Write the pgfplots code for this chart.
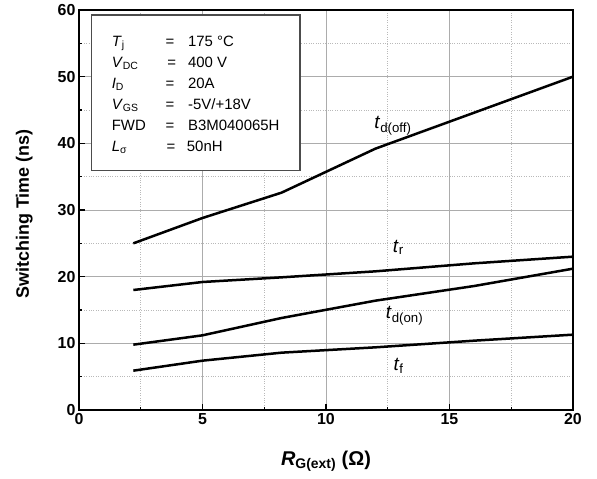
\documentclass[border=0pt]{standalone}
\usepackage{fontspec}
\setmainfont{Liberation Sans}
\usepackage{pgfplots}
\pgfplotsset{compat=1.18}
\begin{document}
\begin{tikzpicture}
\path[use as bounding box] (-79bp,-69bp) rectangle (518bp,410bp);
\begin{axis}[
  at={(0,0)}, anchor=origin,
  scale only axis, width=494bp, height=400bp,
  xmin=0, xmax=20, ymin=0, ymax=60,
  xtick={0,5,...,20}, ytick={0,10,...,60},
  minor xtick={2.5,7.5,12.5,17.5}, minor ytick={5,15,...,55},
  tick pos=left, tick align=inside,
  major tick length=6bp, minor tick length=3.5bp,
  every tick/.style={black, line width=1.2bp},
  grid=both,
  major grid style={gray!65, line width=0.8bp},
  minor grid style={gray!55, dotted, line width=0.6bp},
  axis line style={line width=1.6bp},
  /pgf/number format/assume math mode=true,
  ticklabel style={font=\fontsize{16}{16}\selectfont\bfseries},
  xlabel={\textit{R}\textsubscript{G(ext)} (Ω)},
  ylabel={Switching Time (ns)},
  xlabel style={font=\fontsize{20}{22}\selectfont\bfseries, at={(axis description cs:0.5,-0.128)}, anchor=center},
  ylabel style={font=\fontsize{18}{20}\selectfont\bfseries, at={(axis description cs:-0.111,0.49)}, anchor=center},
]
% t_d(off)
\addplot[black, line width=2.5bp] coordinates {
  (2.2,25.0) (5,28.8) (8.2,32.6) (12,39.2) (16,44.6) (20,50.0)};
% t_r
\addplot[black, line width=2.5bp] coordinates {
  (2.2,18.0) (5,19.2) (8.2,19.9) (12,20.8) (16,22.0) (20,23.0)};
% t_d(on)
\addplot[black, line width=2.5bp] coordinates {
  (2.2,9.8) (5,11.2) (8.2,13.8) (12,16.4) (16,18.6) (20,21.2)};
% t_f
\addplot[black, line width=2.5bp] coordinates {
  (2.2,5.9) (5,7.4) (8.2,8.6) (12,9.4) (16,10.4) (20,11.3)};

\node[font=\fontsize{19}{21}\selectfont] at (axis cs:12.71,42.6) {\textit{t}\textsubscript{d(off)}};
\node[font=\fontsize{19}{21}\selectfont] at (axis cs:12.93,24.4) {\textit{t}\textsubscript{r}};
\node[font=\fontsize{19}{21}\selectfont] at (axis cs:13.18,14.13) {\textit{t}\textsubscript{d(on)}};
\node[font=\fontsize{19}{21}\selectfont] at (axis cs:12.94,6.63) {\textit{t}\textsubscript{f}};

% conditions box
\draw[black!70, line width=1.2bp, fill=white] (axis cs:0.49,59.25) rectangle (axis cs:8.95,35.9);
\begin{scope}[every node/.style={font=\fontsize{15}{17}\selectfont, inner sep=0pt}]
\node[anchor=base west] at (axis cs:1.32,54.6) {\textit{T}\textsubscript{j}};
\node[anchor=base west] at (axis cs:1.32,51.45) {\textit{V}\textsubscript{DC}};
\node[anchor=base west] at (axis cs:1.32,48.3) {\textit{I}\textsubscript{D}};
\node[anchor=base west] at (axis cs:1.32,45.15) {\textit{V}\textsubscript{GS}};
\node[anchor=base west] at (axis cs:1.32,42.0) {FWD};
\node[anchor=base west] at (axis cs:1.32,38.85) {\textit{L}\textsubscript{σ}};
\node[anchor=base] at (axis cs:3.68,54.6) {=};
\node[anchor=base] at (axis cs:3.75,51.45) {=};
\node[anchor=base] at (axis cs:3.68,48.3) {=};
\node[anchor=base] at (axis cs:3.68,45.15) {=};
\node[anchor=base] at (axis cs:3.68,42.0) {=};
\node[anchor=base] at (axis cs:3.72,38.85) {=};
\node[anchor=base west] at (axis cs:4.41,54.6) {175 °C};
\node[anchor=base west] at (axis cs:4.41,51.45) {400 V};
\node[anchor=base west] at (axis cs:4.41,48.3) {20A};
\node[anchor=base west] at (axis cs:4.41,45.15) {-5V/+18V};
\node[anchor=base west] at (axis cs:4.41,42.0) {B3M040065H};
\node[anchor=base west] at (axis cs:4.36,38.85) {50nH};
\end{scope}
\end{axis}
\end{tikzpicture}
\end{document}
